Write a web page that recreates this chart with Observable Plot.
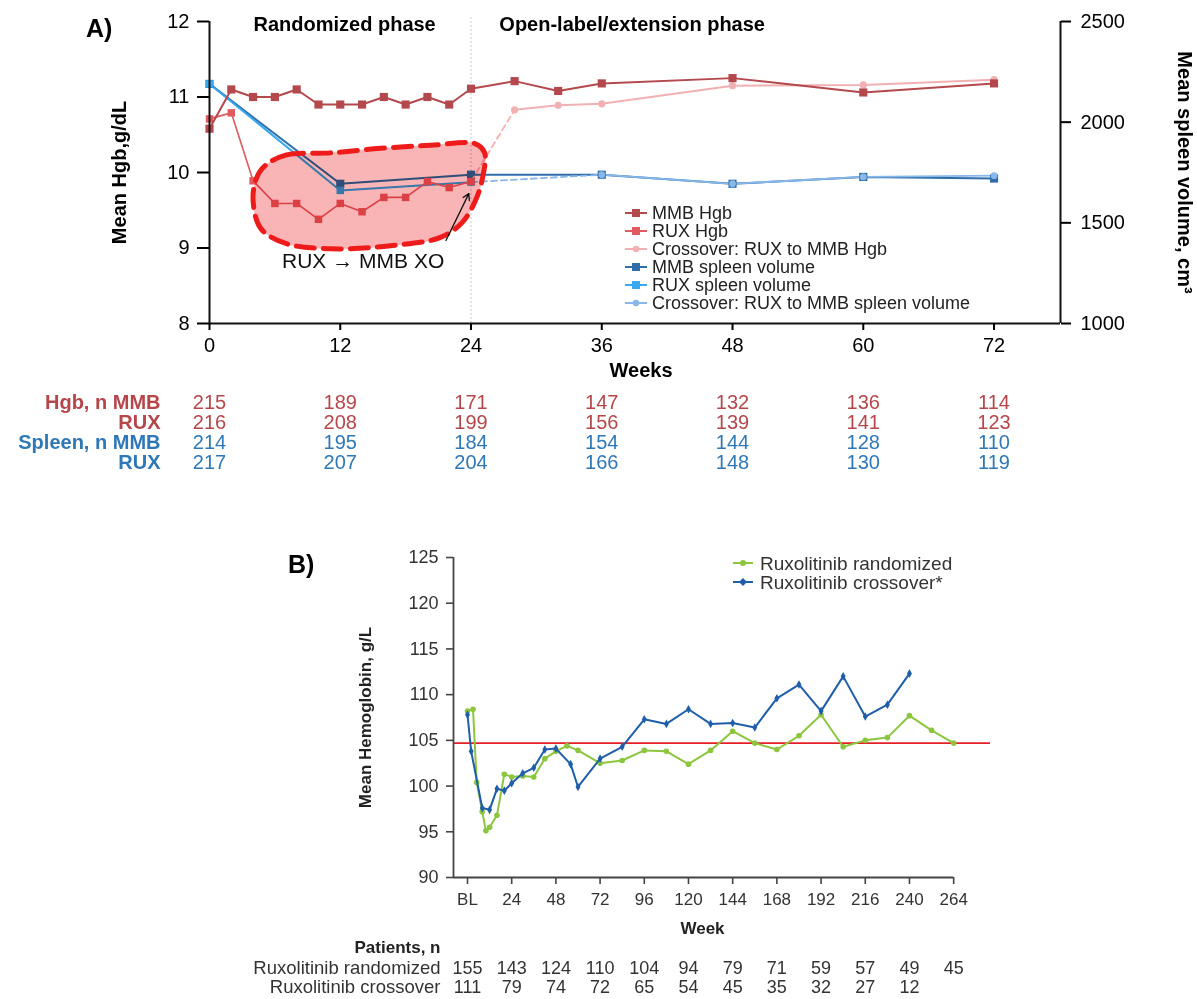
<!DOCTYPE html>
<html>
<head>
<meta charset="utf-8">
<script src="https://cdn.jsdelivr.net/npm/d3@7"></script>
<script src="https://cdn.jsdelivr.net/npm/@observablehq/plot@0.6"></script>
<style>
  html, body { margin: 0; padding: 0; background: #fff; }
  #wrap { position: relative; width: 1197px; height: 999px; overflow: hidden; font-family: 'Liberation Sans', Arial, sans-serif; }
  .abs { position: absolute; }
  .panel { font-weight: bold; font-size: 25px; color: #000; }
</style>
</head>
<body>
<div id="wrap">
  <div id="A" class="abs" style="left:0;top:0"></div>
  <div id="legA" class="abs" style="left:620px;top:200px"></div>
  <div id="B" class="abs" style="left:0;top:520px"></div>
  <div id="legB" class="abs" style="left:725px;top:550px"></div>
  <div class="abs panel" style="left:86px;top:14px">A)</div>
  <div class="abs panel" style="left:288px;top:550px">B)</div>
</div>
<script>
// ---------------- Panel A data ----------------
const mmbHgbWeeks = [0,2,4,6,8,10,12,14,16,18,20,22,24,28,32,36,48,60,72];
const mmbHgb      = [10.58,11.10,11.00,11.00,11.10,10.90,10.90,10.90,11.00,10.90,11.00,10.90,11.11,11.21,11.08,11.18,11.25,11.06,11.18];
const ruxHgbWeeks = [0,2,4,6,8,10,12,14,16,18,20,22,24];
const ruxHgb      = [10.71,10.79,9.89,9.59,9.59,9.38,9.59,9.48,9.67,9.67,9.88,9.80,9.88];
const xoHgbWeeks  = [24,28,32,36,48,60,72];
const xoHgb       = [9.88,10.83,10.89,10.91,11.15,11.16,11.23];
const mmbSpleenWeeks = [0,12,24,36,48,60,72];
const mmbSpleen      = [2190,1694,1739,1739,1694,1728,1720];
const ruxSpleenWeeks = [0,12,24];
const ruxSpleen      = [2190,1661,1702];
const xoSpleenWeeks  = [24,36,48,60,72];
const xoSpleen       = [1702,1739,1694,1728,1734];

const hgbTicks = [8,9,10,11,12];
const spleenTicks = [1000,1500,2000,2500];
const weekTicksA = [0,12,24,36,48,60,72];

const nWeeksA = [0,12,24,36,48,60,72];
const hgbNMMB    = [215,189,171,147,132,136,114];
const hgbNRUX    = [216,208,199,156,139,141,123];
const spleenNMMB = [214,195,184,154,144,128,110];
const spleenNRUX = [217,207,204,166,148,130,119];
const rowLabelsA = ["Hgb, n MMB","RUX","Spleen, n MMB","RUX"];

// highlight outline (week, Hgb)
const blobWeeks = [5.1,7.0,11.1,15.7,20.3,24.4,25.25,25.1,24.5,23.2,21.2,16.6,11.1,7.0,4.7,4.0,4.3];
const blobHgb   = [10.09,10.23,10.26,10.32,10.36,10.38,10.26,9.96,9.66,9.34,9.14,9.03,8.99,9.06,9.26,9.63,9.92];

const seriesA = ["MMB Hgb","RUX Hgb","Crossover: RUX to MMB Hgb","MMB spleen volume","RUX spleen volume","Crossover: RUX to MMB spleen volume"];
const phaseLabels = ["Randomized phase","Open-label/extension phase"];

// ---------------- Panel B data ----------------
const weeksRand = [0,3,5,8,10,12,16,20,24,30,36,42,48,54,60,72,84,96,108,120,132,144,156,168,180,192,204,216,228,240,252,264];
const hbRand    = [108.2,108.4,100.4,97.2,95.1,95.5,96.8,101.3,101.0,101.1,101.0,103.0,103.8,104.4,103.9,102.5,102.8,103.9,103.8,102.4,103.9,106.0,104.7,104.0,105.5,107.8,104.3,105.0,105.3,107.7,106.1,104.7];
const weeksXO   = [0,2,8,12,16,20,24,30,36,42,48,56,60,72,84,96,108,120,132,144,156,168,180,192,204,216,228,240];
const hbXO      = [107.8,103.8,97.6,97.4,99.7,99.5,100.3,101.4,102.0,104.0,104.1,102.4,99.9,103.0,104.3,107.3,106.8,108.4,106.8,106.9,106.4,109.6,111.1,108.2,112.0,107.6,108.9,112.3];
const refLine   = 104.7;
const weekTicksB = [0,24,48,72,96,120,144,168,192,216,240,264];
const hbTicksB   = [90,95,100,105,110,115,120,125];
const nWeeksB    = [0,24,48,72,96,120,144,168,192,216,240,264];
const nRand      = [155,143,124,110,104,94,79,71,59,57,49,45];
const nXO        = [111,79,74,72,65,54,45,35,32,27,12];
const seriesB    = ["Ruxolitinib randomized","Ruxolitinib crossover*"];
const rowLabelsB = ["Patients, n","Ruxolitinib randomized","Ruxolitinib crossover"];

// ---------------- helpers ----------------
const mk = (ws, vs) => ws.map((w, i) => ({w, v: vs[i]}));
const sToH = s => 8 + (s - 1000) / 375;   // spleen (cm3) onto Hgb axis
const C = {
  mmbHgb: "#b3484d", ruxHgb: "#e05a5f", xoHgb: "#f1b1b3",
  mmbSp: "#2f6ea9", ruxSp: "#38a8f0", xoSp: "#88b7e9",
  tRed: "#b5474b", tBlue: "#2f78b7",
  green: "#8cc63e", bBlue: "#1f5ea8", refRed: "#e41f26",
  blobFill: "#f9b4b5"
};
const XMAX_A = 78.1;

const mmbHgbD = mk(mmbHgbWeeks, mmbHgb);
const ruxHgbD = mk(ruxHgbWeeks, ruxHgb);
const xoHgbD  = mk(xoHgbWeeks, xoHgb);
const mmbSpD  = mk(mmbSpleenWeeks, mmbSpleen);
const ruxSpD  = mk(ruxSpleenWeeks, ruxSpleen);
const xoSpD   = mk(xoSpleenWeeks, xoSpleen);
const blobD   = blobWeeks.map((w, i) => ({w, v: blobHgb[i]}));
const spY = d => sToH(d.v);

const rowsA = [
  {label: rowLabelsA[0], vals: hgbNMMB, color: C.tRed, dy: 79},
  {label: rowLabelsA[1], vals: hgbNRUX, color: C.tRed, dy: 99},
  {label: rowLabelsA[2], vals: spleenNMMB, color: C.tBlue, dy: 119},
  {label: rowLabelsA[3], vals: spleenNRUX, color: C.tBlue, dy: 139}
];

const tableMarksA = rowsA.flatMap(r => [
  Plot.text(mk(nWeeksA, r.vals), {x: "w", text: d => String(d.v), frameAnchor: "bottom", dy: r.dy, lineAnchor: "middle", textAnchor: "middle", fill: r.color, fontSize: 20}),
  Plot.text([r.label], {x: 0, text: d => d, frameAnchor: "bottom", dy: r.dy, dx: -49, textAnchor: "end", lineAnchor: "middle", fill: r.color, fontSize: 20, fontWeight: "bold"})
]);

const plotA = Plot.plot({
  width: 1197, height: 480,
  marginTop: 21, marginBottom: 157, marginLeft: 209, marginRight: 137,
  x: {domain: [0, XMAX_A]},
  y: {domain: [8, 12]},
  style: {fontFamily: "'Liberation Sans', Arial, sans-serif", fontSize: "20px", color: "#000", background: "transparent", overflow: "visible"},
  marks: [
    Plot.ruleX([24], {y1: 8, y2: 12.05, stroke: "#c8c8c8", strokeDasharray: "2,2", strokeWidth: 1}),
    // spleen
    Plot.line(mmbSpD, {x: "w", y: spY, stroke: C.mmbSp, strokeWidth: 2}),
    Plot.line(ruxSpD, {x: "w", y: spY, stroke: C.ruxSp, strokeWidth: 2}),
    Plot.line(xoSpD.slice(0, 2), {x: "w", y: spY, stroke: C.xoSp, strokeWidth: 1.8, strokeDasharray: "6,4"}),
    Plot.line(xoSpD.slice(1), {x: "w", y: spY, stroke: C.xoSp, strokeWidth: 1.8}),
    Plot.dot(mmbSpD, {x: "w", y: spY, symbol: "square", r: 4.6, fill: C.mmbSp}),
    Plot.dot(ruxSpD, {x: "w", y: spY, symbol: "square", r: 4.2, fill: C.ruxSp}),
    Plot.dot(xoSpD.slice(1), {x: "w", y: spY, r: 3.4, fill: C.xoSp}),
    // Hgb
    Plot.line(xoHgbD.slice(0, 2), {x: "w", y: "v", stroke: C.xoHgb, strokeWidth: 1.8, strokeDasharray: "6,4"}),
    Plot.line(xoHgbD.slice(1), {x: "w", y: "v", stroke: C.xoHgb, strokeWidth: 2}),
    Plot.dot(xoHgbD.slice(1), {x: "w", y: "v", r: 3.6, fill: C.xoHgb}),
    Plot.line(ruxHgbD, {x: "w", y: "v", stroke: C.ruxHgb, strokeWidth: 1.6}),
    Plot.dot(ruxHgbD, {x: "w", y: "v", symbol: "square", r: 4.2, fill: C.ruxHgb}),
    Plot.line(mmbHgbD, {x: "w", y: "v", stroke: C.mmbHgb, strokeWidth: 2}),
    Plot.dot(mmbHgbD, {x: "w", y: "v", symbol: "square", r: 4.6, fill: C.mmbHgb}),
    // highlight
    Plot.line(blobD, {x: "w", y: "v", curve: "catmull-rom-closed", stroke: C.blobFill, strokeWidth: 0.5}),
    Plot.line(blobD, {x: "w", y: "v", curve: "catmull-rom-closed", stroke: "#ee1b1b", strokeWidth: 5, strokeDasharray: "18,9"}),
    Plot.text(["RUX \u2192 MMB XO"], {x: 14.1, y: 8.83, text: d => d, fontSize: 21, fill: "#111"}),
    Plot.arrow([{x1: 21.7, y1: 9.10, x2: 23.8, y2: 9.72}], {x1: "x1", y1: "y1", x2: "x2", y2: "y2", stroke: "#111", strokeWidth: 1.3, headLength: 8}),
    // phase labels
    Plot.text([phaseLabels[0]], {x: 12.4, frameAnchor: "top", dy: 3, lineAnchor: "middle", textAnchor: "middle", text: d => d, fontWeight: "bold", fontSize: 20}),
    Plot.text([phaseLabels[1]], {x: 26.6, frameAnchor: "top", dy: 3, lineAnchor: "middle", textAnchor: "start", text: d => d, fontWeight: "bold", fontSize: 20}),
    // axes
    Plot.ruleX([0], {y1: 8, y2: 12, stroke: "#111", strokeWidth: 2}),
    Plot.ruleX([XMAX_A], {y1: 8, y2: 12, stroke: "#111", strokeWidth: 2}),
    Plot.ruleY([8], {x1: 0, x2: XMAX_A, stroke: "#111", strokeWidth: 2}),
    Plot.axisY({ticks: hgbTicks, tickSize: 12, tickPadding: 8, fontSize: 20, strokeWidth: 2, tickFormat: d => String(d), label: null}),
    Plot.axisY({ticks: spleenTicks.map(sToH), anchor: "right", tickSize: 10, tickPadding: 10, fontSize: 20, strokeWidth: 2, tickFormat: h => String(Math.round(1000 + (h - 8) * 375)), label: null}),
    Plot.axisX({ticks: weekTicksA, tickSize: 7, tickPadding: 7, fontSize: 20, strokeWidth: 2, tickFormat: d => String(d), label: null}),
    Plot.text(["Weeks"], {x: 39.6, frameAnchor: "bottom", dy: 47, lineAnchor: "middle", textAnchor: "middle", text: d => d, fontWeight: "bold", fontSize: 20}),
    Plot.text(["Mean Hgb,g/dL"], {frameAnchor: "left", dx: -90, rotate: -90, textAnchor: "middle", lineAnchor: "middle", text: d => d, fontWeight: "bold", fontSize: 20}),
    Plot.text(["Mean spleen volume, cm\u00B3"], {frameAnchor: "right", dx: 124, rotate: 90, textAnchor: "middle", lineAnchor: "middle", text: d => d, fontWeight: "bold", fontSize: 20}),
    ...tableMarksA
  ]
});
document.getElementById("A").appendChild(plotA);
// fill the highlight outline (line marks draw unfilled paths) and blend it like a marker pen
plotA.querySelectorAll('[stroke="' + C.blobFill + '"]').forEach(g => {
  g.style.mixBlendMode = "multiply";
  g.setAttribute("fill", C.blobFill);
  g.querySelectorAll("path").forEach(p => { p.setAttribute("fill", C.blobFill); p.style.fill = C.blobFill; });
});

// Legend A
(function(){
  const items = [
    {label: seriesA[0], color: C.mmbHgb, sym: "sq"},
    {label: seriesA[1], color: C.ruxHgb, sym: "sq"},
    {label: seriesA[2], color: C.xoHgb, sym: "ci"},
    {label: seriesA[3], color: C.mmbSp, sym: "sq"},
    {label: seriesA[4], color: C.ruxSp, sym: "sq"},
    {label: seriesA[5], color: C.xoSp, sym: "ci"}
  ];
  const svg = d3.create("svg").attr("width", 380).attr("height", 115)
    .style("font-family", "'Liberation Sans', Arial, sans-serif").style("overflow", "visible");
  items.forEach((it, i) => {
    const y = 13 + i * 18;
    svg.append("line").attr("x1", 5).attr("x2", 27).attr("y1", y).attr("y2", y).attr("stroke", it.color).attr("stroke-width", 2);
    if (it.sym === "sq") svg.append("rect").attr("x", 12).attr("y", y - 4).attr("width", 8).attr("height", 8).attr("fill", it.color);
    else svg.append("circle").attr("cx", 16).attr("cy", y).attr("r", 3.2).attr("fill", it.color);
    svg.append("text").attr("x", 32).attr("y", y).attr("dy", "0.35em").attr("font-size", 18).attr("fill", "#222").text(it.label);
  });
  document.getElementById("legA").appendChild(svg.node());
})();

// ---------------- Panel B ----------------
const randD = mk(weeksRand, hbRand);
const xoD = mk(weeksXO, hbXO);
const XMIN_B = -7.6, XMAX_B = 284;

const plotB = Plot.plot({
  width: 1197, height: 479,
  marginTop: 37, marginBottom: 122, marginLeft: 453, marginRight: 207,
  x: {domain: [XMIN_B, XMAX_B]},
  y: {domain: [90, 125]},
  style: {fontFamily: "'Liberation Sans', Arial, sans-serif", fontSize: "17px", color: "#333", background: "transparent", overflow: "visible"},
  marks: [
    Plot.ruleY([refLine], {stroke: C.refRed, strokeWidth: 1.6}),
    Plot.line(randD, {x: "w", y: "v", stroke: C.green, strokeWidth: 2}),
    Plot.dot(randD, {x: "w", y: "v", r: 2.8, fill: C.green}),
    Plot.line(xoD, {x: "w", y: "v", stroke: C.bBlue, strokeWidth: 2}),
    Plot.dot(xoD, {x: "w", y: "v", r: 2.6, symbol: "diamond", fill: C.bBlue}),
    Plot.ruleX([XMIN_B], {y1: 90, y2: 125, stroke: "#444", strokeWidth: 1.8}),
    Plot.ruleY([90], {x1: XMIN_B, x2: 264, stroke: "#444", strokeWidth: 1.8}),
    Plot.axisY({ticks: hbTicksB, tickSize: 7, tickPadding: 8, fontSize: 18, strokeWidth: 1.6, stroke: "#444", fill: "#333", tickFormat: d => String(d), label: null}),
    Plot.axisX({ticks: weekTicksB, tickSize: 7, tickPadding: 8, fontSize: 17, strokeWidth: 1.6, stroke: "#444", fill: "#333", tickFormat: d => d === 0 ? "BL" : String(d), label: null}),
    Plot.text(["Week"], {x: 127.6, frameAnchor: "bottom", dy: 51, lineAnchor: "middle", textAnchor: "middle", text: d => d, fontWeight: "bold", fontSize: 17, fill: "#222"}),
    Plot.text(["Mean Hemoglobin, g/L"], {frameAnchor: "left", dx: -88, rotate: -90, textAnchor: "middle", lineAnchor: "middle", text: d => d, fontWeight: "bold", fontSize: 17, fill: "#222"}),
    Plot.text([rowLabelsB[0]], {x: XMIN_B, frameAnchor: "bottom", dy: 70, dx: -13, textAnchor: "end", lineAnchor: "middle", text: d => d, fontWeight: "bold", fontSize: 17, fill: "#222"}),
    Plot.text([rowLabelsB[1]], {x: XMIN_B, frameAnchor: "bottom", dy: 91, dx: -13, textAnchor: "end", lineAnchor: "middle", text: d => d, fontSize: 18.5, fill: "#333"}),
    Plot.text([rowLabelsB[2]], {x: XMIN_B, frameAnchor: "bottom", dy: 110, dx: -13, textAnchor: "end", lineAnchor: "middle", text: d => d, fontSize: 18.5, fill: "#333"}),
    Plot.text(mk(nWeeksB, nRand), {x: "w", text: d => String(d.v), frameAnchor: "bottom", dy: 91, lineAnchor: "middle", textAnchor: "middle", fontSize: 18, fill: "#333"}),
    Plot.text(mk(nWeeksB.slice(0, nXO.length), nXO), {x: "w", text: d => String(d.v), frameAnchor: "bottom", dy: 110, lineAnchor: "middle", textAnchor: "middle", fontSize: 18, fill: "#333"})
  ]
});
document.getElementById("B").appendChild(plotB);

// Legend B
(function(){
  const items = [
    {label: seriesB[0], color: C.green, sym: "ci"},
    {label: seriesB[1], color: C.bBlue, sym: "di"}
  ];
  const svg = d3.create("svg").attr("width", 300).attr("height", 45)
    .style("font-family", "'Liberation Sans', Arial, sans-serif").style("overflow", "visible");
  items.forEach((it, i) => {
    const y = 13 + i * 19;
    svg.append("line").attr("x1", 8).attr("x2", 28).attr("y1", y).attr("y2", y).attr("stroke", it.color).attr("stroke-width", 2);
    if (it.sym === "ci") svg.append("circle").attr("cx", 18).attr("cy", y).attr("r", 3).attr("fill", it.color);
    else svg.append("path").attr("d", `M18,${y-4}L22,${y}L18,${y+4}L14,${y}Z`).attr("fill", it.color);
    svg.append("text").attr("x", 35).attr("y", y).attr("dy", "0.35em").attr("font-size", 19).attr("fill", "#333").text(it.label);
  });
  document.getElementById("legB").appendChild(svg.node());
})();
</script>
</body>
</html>
